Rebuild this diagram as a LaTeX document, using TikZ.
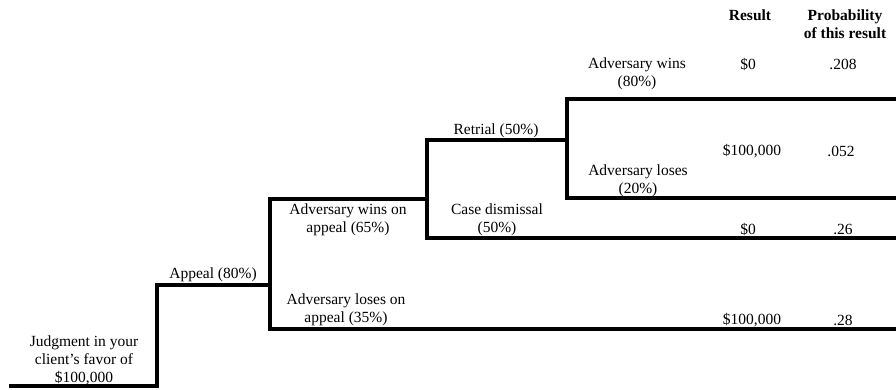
\documentclass[tikz,border=0pt]{standalone}
\usepackage{fontspec}
\setmainfont{Liberation Serif}
\begin{document}
\begin{tikzpicture}[x=1pt,y=-1pt,
  br/.style={line width=3.2pt, line cap=rect, line join=miter},
  lbl/.style={inner sep=0pt, align=center, font=\fontsize{15.5}{18}\selectfont},
  hdr/.style={lbl, font=\fontsize{15.5}{18}\selectfont\bfseries}]
\useasboundingbox (0,0) rectangle (896,389);
% tree points
\coordinate (start) at (11,386);
\coordinate (c1) at (157,386);
\coordinate (c2) at (157,285);
\coordinate (n2) at (270,285);
\coordinate (n2w) at (270,199);
\coordinate (n2l) at (270,329);
\coordinate (n3) at (427,199);
\coordinate (n3r) at (427,140);
\coordinate (n3d) at (427,238);
\coordinate (n4) at (567,140);
\coordinate (n4w) at (567,99);
\coordinate (n4l) at (567,198);
\coordinate (e1) at (896,99);
\coordinate (e2) at (896,198);
\coordinate (e3) at (896,238);
\coordinate (e4) at (896,329);
% branches
\draw[br] (start) -- (c1) -- (c2) -- (n2);
\draw[br] (n3) -- (n2w) -- (n2l) -- (e4);
\draw[br] (n4) -- (n3r) -- (n3d) -- (e3);
\draw[br] (e1) -- (n4w) -- (n4l) -- (e2);
% labels
\node[lbl] (judg) at (84,360) {Judgment in your\\client’s favor of\\\$100,000};
\node[lbl] (appeal) at (213,275) {Appeal (80\%)};
\node[lbl] (awa) at (348,220) {Adversary wins on\\appeal (65\%)};
\node[lbl] (ala) at (346,310) {Adversary loses on\\appeal (35\%)};
\node[lbl] (retr) at (496,131) {Retrial (50\%)};
\node[lbl] (cdis) at (497,220) {Case dismissal\\(50\%)};
\node[lbl] (aw) at (637,73.5) {Adversary wins\\(80\%)};
\node[lbl] (al) at (638,181) {Adversary loses\\(20\%)};
% headers
\node[hdr] (hres) at (750,15) {Result};
\node[hdr] (hprob) at (845,24) {Probability\\of this result};
% results
\node[lbl] (r1) at (748,64) {\$0};
\node[lbl] (p1) at (843,64) {.208};
\node[lbl] (r2) at (752,151) {\$100,000};
\node[lbl] (p2) at (841,151) {.052};
\node[lbl] (r3) at (748,229) {\$0};
\node[lbl] (p3) at (843,229) {.26};
\node[lbl] (r4) at (752,320) {\$100,000};
\node[lbl] (p4) at (843,320) {.28};
\end{tikzpicture}
\end{document}
